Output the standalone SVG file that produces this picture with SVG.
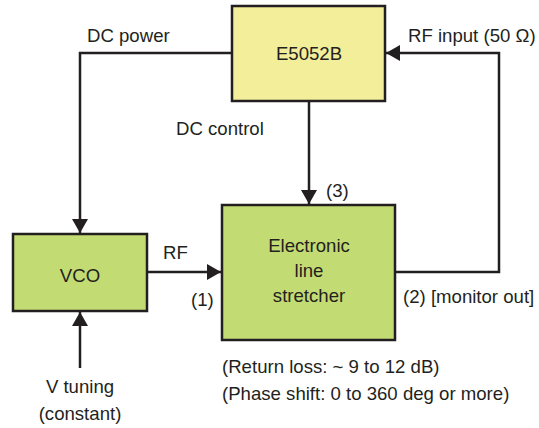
<svg xmlns="http://www.w3.org/2000/svg" width="539" height="428" viewBox="0 0 539 428">
<style>
text{font-family:"Liberation Sans",Arial,sans-serif;font-size:18.6px;fill:#231f20}
.c{text-anchor:middle}
.box{stroke:#231f20;stroke-width:2.5}
.ln{fill:none;stroke:#231f20;stroke-width:2.5}
</style>
<defs>
<marker id="ah" viewBox="0 0 14 16" refX="14" refY="8" markerWidth="14" markerHeight="16" markerUnits="userSpaceOnUse" orient="auto">
<path d="M0,0 L14,8 L0,16 Z" fill="#231f20"/>
</marker>
</defs>
<rect width="539" height="428" fill="#fff"/>
<g id="connectors">
<polyline class="ln" points="232,53 80,53 80,233" marker-end="url(#ah)"/>
<line class="ln" x1="309" y1="101" x2="309" y2="204" marker-end="url(#ah)"/>
<line class="ln" x1="147" y1="272" x2="221" y2="272" marker-end="url(#ah)"/>
<polyline class="ln" points="395,272 499,272 499,53 386,53" marker-end="url(#ah)"/>
<line class="ln" x1="80" y1="368" x2="80" y2="312" marker-end="url(#ah)"/>
</g>
<g id="e5052b">
<rect class="box" x="232" y="6" width="153" height="95" fill="#f3ee99"/>
<text class="c" x="309" y="60">E5052B</text>
</g>
<g id="vco">
<rect class="box" x="13" y="234" width="134" height="77" fill="#c3db73"/>
<text class="c" x="80" y="282">VCO</text>
</g>
<g id="stretcher">
<rect class="box" x="222" y="205" width="173" height="135" fill="#c3db73"/>
<text class="c" x="309" y="252">Electronic</text>
<text class="c" x="309" y="277">line</text>
<text class="c" x="309" y="302">stretcher</text>
</g>
<g id="labels">
<text x="87" y="42">DC power</text>
<text x="176" y="135">DC control</text>
<text x="408" y="42">RF input (50 Ω)</text>
<text x="326" y="197">(3)</text>
<text x="163" y="259">RF</text>
<text x="191" y="306">(1)</text>
<text x="403" y="303">(2) [monitor out]</text>
<text x="222" y="373">(Return loss: ~ 9 to 12 dB)</text>
<text x="222" y="400">(Phase shift: 0 to 360 deg or more)</text>
<text class="c" x="80" y="393">V tuning</text>
<text class="c" x="80" y="420">(constant)</text>
</g>
</svg>
